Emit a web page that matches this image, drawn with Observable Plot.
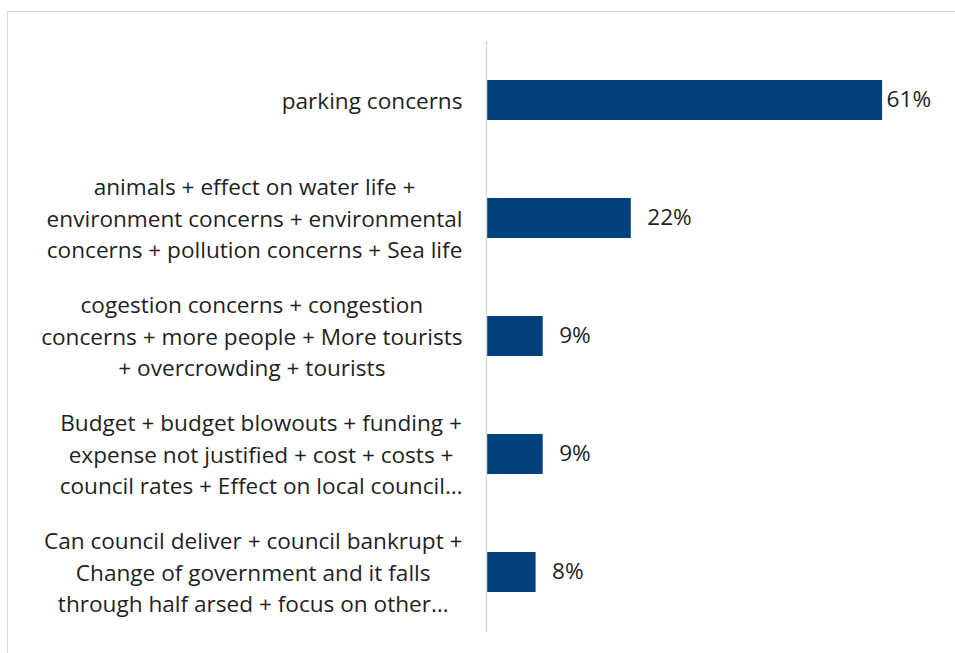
<!DOCTYPE html>
<html>
<head>
<meta charset="utf-8">
<script src="https://cdn.jsdelivr.net/npm/d3@7"></script>
<script src="https://cdn.jsdelivr.net/npm/@observablehq/plot@0.6"></script>
<style>
  html, body { margin: 0; padding: 0; background: #fff; overflow: hidden; }
  #frame { position: absolute; left: 7px; top: 11px; width: 2000px; height: 2000px;
           border-left: 1.5px solid #d9d9d9; border-top: 1.5px solid #d9d9d9; }
  #chart { position: absolute; left: 0; top: 0; }
</style>
</head>
<body>
<div id="frame"></div>
<div id="chart"></div>
<script>
// Categories (full names) and their wrapped display lines
const categories = [
  "parking concerns",
  "animals + effect on water life + environment concerns + environmental concerns + pollution concerns + Sea life",
  "cogestion concerns + congestion concerns + more people + More tourists + overcrowding + tourists",
  "Budget + budget blowouts + funding + expense not justified + cost + costs + council rates + Effect on local council…",
  "Can council deliver + council bankrupt + Change of government and it falls through half arsed + focus on other…"
];
const categoryLines = [
  ["parking concerns"],
  ["animals + effect on water life +", "environment concerns + environmental", "concerns + pollution concerns + Sea life"],
  ["cogestion concerns + congestion", "concerns + more people + More tourists", "+ overcrowding + tourists"],
  ["Budget + budget blowouts + funding +", "expense not justified + cost + costs +", "council rates + Effect on local council…"],
  ["Can council deliver + council bankrupt +", "Change of government and it falls", "through half arsed + focus on other…"]
];
const values = [61, 22.2, 8.6, 8.6, 7.5];
const valueLabels = ["61%", "22%", "9%", "9%", "8%"];

const data = categories.map((c, i) => ({cat: c, lines: categoryLines[i], value: values[i], label: valueLabels[i]}));

const family = "Open Sans";

function draw() {
  const svgNS = "http://www.w3.org/2000/svg";
  const probe = document.createElementNS(svgNS, "svg");
  probe.setAttribute("style", "position:absolute;left:-9999px;top:0");
  const t = document.createElementNS(svgNS, "text");
  probe.appendChild(t);
  document.body.appendChild(probe);
  function measure(s, size) {
    t.setAttribute("font-family", `"${family}", sans-serif`);
    t.setAttribute("font-size", size);
    t.textContent = s;
    return t.getComputedTextLength();
  }
  const refSize = 21.33;
  const refWidth = 181; // width of "parking concerns" in the reference
  const fs = Math.max(20, Math.min(22.6, refSize * refWidth / measure("parking concerns", refSize)));
  const lineHeightPx = 31.5;

  const W = 955, H = 653;
  const mL = 487, mR = 25, mT = 41, mB = 21;
  const xMax = 68.4;
  const plotW = W - mL - mR;
  const pxPerUnit = plotW / xMax;
  const labelGap = 25;

  const labelMarks = data.map(d => {
    const w = Math.max(...d.lines.map(l => measure(l, fs)));
    return Plot.text([d], {
      y: "cat", frameAnchor: "left", text: v => v.lines.join("\n"),
      textAnchor: "middle", dx: -(labelGap + w / 2), dy: -2,
      lineHeight: lineHeightPx / fs, fill: "#1f1f1f", fontSize: fs
    });
  });

  const fits = d => d.value * pxPerUnit + 16 + measure(d.label, fs) <= plotW;
  const fitFlags = data.map(fits);
  document.body.removeChild(probe);

  const chart = Plot.plot({
    width: W, height: H,
    marginLeft: mL, marginRight: mR, marginTop: mT, marginBottom: mB,
    x: {domain: [0, xMax], axis: null},
    y: {domain: categories, paddingInner: 0.66, paddingOuter: 0.33, axis: null},
    style: {fontFamily: `"${family}", sans-serif`, fontSize: fs + "px", background: "transparent", overflow: "visible"},
    marks: [
      Plot.barX(data, {x: "value", y: "cat", fill: "#03417e"}),
      Plot.ruleX([0], {stroke: "#d9d9d9", strokeWidth: 1.5, dx: -1}),
      ...labelMarks,
      Plot.text(data.filter((d, i) => fitFlags[i]), {x: "value", y: "cat", text: "label", textAnchor: "start", dx: 16, dy: -1, fill: "#1f1f1f", fontSize: fs}),
      Plot.text(data.filter((d, i) => !fitFlags[i]), {x: "value", y: "cat", text: "label", textAnchor: "start", dx: 4, dy: -1, fill: "#1f1f1f", fontSize: fs})
    ]
  });
  document.getElementById("chart").appendChild(chart);
}

if (document.fonts && document.fonts.load) {
  document.fonts.load(`21px "${family}"`).then(draw, draw);
} else {
  draw();
}
</script>
</body>
</html>
